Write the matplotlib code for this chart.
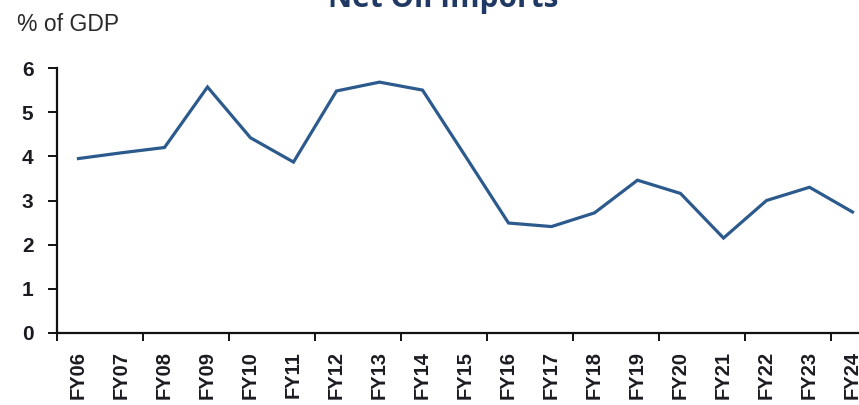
import matplotlib
matplotlib.use("Agg")
import matplotlib.pyplot as plt
from matplotlib import font_manager

# Net oil imports as a share of GDP, fiscal years
years = ["FY06", "FY07", "FY08", "FY09", "FY10", "FY11", "FY12", "FY13", "FY14",
         "FY15", "FY16", "FY17", "FY18", "FY19", "FY20", "FY21", "FY22", "FY23", "FY24"]
net_oil_imports = [3.95, 4.08, 4.2, 5.57, 4.42, 3.87, 5.48, 5.68, 5.5,
                   4.0, 2.49, 2.41, 2.72, 3.46, 3.16, 2.15, 3.0, 3.3, 2.74]
y_ticks = [0, 1, 2, 3, 4, 5, 6]

names = {f.name for f in font_manager.fontManager.ttflist}
narrow = "Liberation Sans Narrow" if "Liberation Sans Narrow" in names else "Liberation Sans"

W, H = 859, 405
fig = plt.figure(figsize=(W / 100, H / 100), dpi=100)
fig.patch.set_facecolor("white")

left_px, right_px, bottom_px, top_px = 57, 874, 333, 68
ax = fig.add_axes([left_px / W, 1 - bottom_px / H,
                   (right_px - left_px) / W, (bottom_px - top_px) / H])

x = list(range(len(years)))
ax.plot(x, net_oil_imports, color="#2c5a8c", lw=2.3, solid_joinstyle="miter",
        clip_on=False)

ax.set_xlim(-0.5, len(years) - 0.5)
ax.set_ylim(0, 6)

for s in ("top", "right"):
    ax.spines[s].set_visible(False)
for s in ("left", "bottom"):
    ax.spines[s].set_color("#111111")
    ax.spines[s].set_linewidth(1.6)

text_color = "#1b1b22"

# y axis
ax.set_yticks(y_ticks)
ax.set_yticklabels([str(v) for v in y_ticks], family=[narrow, "DejaVu Sans"],
                   fontweight="bold", fontsize=15, color=text_color)
ax.tick_params(axis="y", direction="out", length=6.5, width=1.4, pad=10.5,
               color="#111111")

# x axis: tick marks at every other category boundary, labels at centres
ax.set_xticks([i - 0.5 for i in range(0, len(years), 2)])
ax.set_xticklabels([])
ax.tick_params(axis="x", which="major", direction="out", length=6, width=1.4,
               color="#111111")
ax.set_xticks(x, minor=True)
ax.set_xticklabels(years, minor=True, rotation=90, va="top", ha="center",
                   family=["Liberation Sans", "DejaVu Sans"], fontweight="bold",
                   fontsize=14.5, color=text_color)
ax.tick_params(axis="x", which="minor", length=0, pad=13)

fig.text(17 / W, 1 - 31 / H, "% of GDP", family=[narrow, "DejaVu Sans"],
         fontsize=16.5, color="#2a2a2a", ha="left", va="baseline")

fig.text(443 / W, 1 - 7.5 / H, "Net Oil Imports", family=["Open Sans", "DejaVu Sans"],
         fontweight="bold", fontsize=21.5, color="#1f3864", ha="center",
         va="baseline")

fig.savefig("out.png", dpi=100, facecolor="white")
